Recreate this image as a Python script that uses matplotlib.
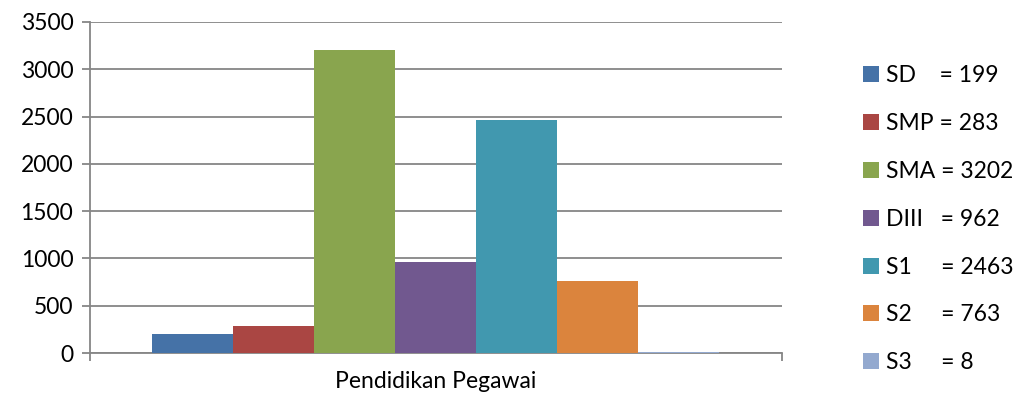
import matplotlib
matplotlib.use("Agg")
from matplotlib import pyplot as plt
from matplotlib.patches import Patch

# data
kategori = ["SD", "SMP", "SMA", "DIII", "S1", "S2", "S3"]
jumlah = [199, 283, 3202, 962, 2463, 763, 8]
legend_label = ["SD    = 199", "SMP = 283", "SMA = 3202", "DIII   = 962",
                "S1     = 2463", "S2     = 763", "S3     = 8"]
warna = ["#4572A7", "#AA4643", "#89A54E", "#71588F", "#4198AF", "#DB843D", "#93A9CF"]
yticks = [0, 500, 1000, 1500, 2000, 2500, 3000, 3500]
xlabel_kategori = "Pendidikan Pegawai"

plt.rcParams['font.family'] = ['Lato', 'DejaVu Sans']
grey = "#868686"
fs = 16.5

fig = plt.figure(figsize=(10.18, 4.01), dpi=100)
ax = fig.add_axes([90/1018, 1-353/401, 692/1018, 331/401])

pos = list(range(len(kategori)))
ax.bar(pos, jumlah, width=1.0, color=warna, linewidth=0, zorder=3)

x0 = -0.5 - 62/81
x1 = 6.5 + 63/81
ax.set_xlim(x0, x1)
ax.set_ylim(0, 3500)
ax.set_yticks(yticks)
ax.set_yticklabels([str(v) for v in yticks], fontsize=fs)
ax.yaxis.grid(True, color=grey, linewidth=1.3, zorder=0)

ax.set_xticks([(x0 + x1) / 2])
ax.set_xticklabels([xlabel_kategori], fontsize=fs)
ax.set_xticks([x0, x1], minor=True)
ax.tick_params(axis="x", which="major", length=0, pad=13)
ax.tick_params(axis="x", which="minor", length=6, width=1.3, color=grey, direction="out")
ax.tick_params(axis="y", length=6, width=1.3, color=grey, direction="out", pad=6)

for s in ["top", "right"]:
    ax.spines[s].set_visible(False)
for s in ["left", "bottom"]:
    ax.spines[s].set_color(grey)
    ax.spines[s].set_linewidth(1.3)

handles = [Patch(facecolor=c, edgecolor="none") for c in warna]
fig.legend(handles, legend_label, loc="upper left", bbox_to_anchor=(0.839, 0.86),
           frameon=False, fontsize=fs, handlelength=0.7, handleheight=0.7,
           handletextpad=0.3, labelspacing=1.17, borderaxespad=0)

fig.savefig("out.png", dpi=100)
